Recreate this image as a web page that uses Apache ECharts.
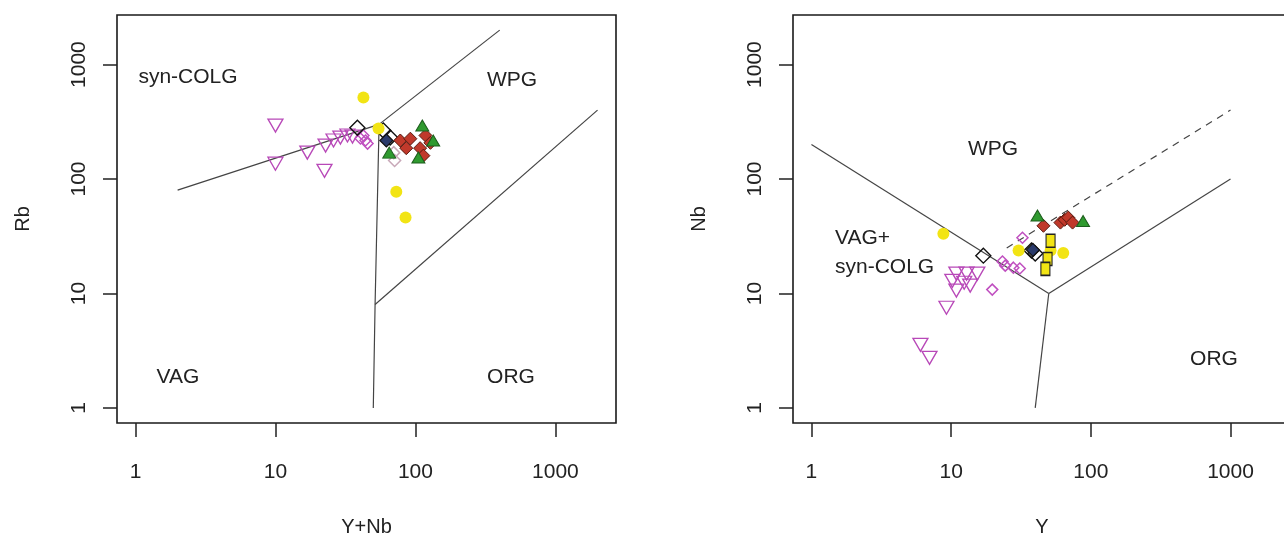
<!DOCTYPE html>
<html>
<head>
<meta charset="utf-8">
<script src="https://cdn.jsdelivr.net/npm/echarts@6/dist/echarts.min.js"></script>
<style>
html,body{margin:0;padding:0;background:#fff;overflow:hidden;}
#chart{width:1300px;height:538px;}
</style>
</head>
<body>
<div id="chart"></div>
<script>
// ---------- tick labels ----------
const tickValues = [1, 10, 100, 1000];

// ---------- left diagram: Rb vs Y+Nb ----------
const leftPinkTriangles = [[10,293],[10,136],[16.9,170],[22.4,118],[22.8,196],[26,217],[29.1,230],[32.7,240],[35.5,235]];
const leftPinkDiamonds  = [[40.5,226],[42.5,240],[44,217],[45.5,204]];
const leftBlackDiamonds = [[38.5,280],[59,265],[66,230]];
const leftNavyDiamonds  = [[62,217]];
const leftYellow        = [[42.5,515],[54.5,276],[73,77.5],[85,46]];
const leftRed           = [[78,217],[86,186],[92,225],[108,186],[118,240],[114,160],[128,207]];
const leftGreen         = [[112,293],[134,217],[105,154],[65,170]];
const leftGrey          = [[70,170],[71,145]];

const leftLineVagSyn = [[2,80],[55,300]];
const leftLineSynWpg = [[55,300],[400,2000]];
const leftLineVagOrg = [[55,300],[51.5,8],[50,1]];
const leftLineWpgOrg = [[51.5,8],[2000,400]];

// ---------- right diagram: Nb vs Y ----------
const rightPinkTriangles = [[10.9,14.9],[12.9,14.9],[15.4,14.9],[10.2,12.9],[12.4,12.4],[13.7,11.7],[10.9,10.6],[9.26,7.5],[6.03,3.56],[7.0,2.74]];
const rightPinkDiamonds  = [[32.4,30.7],[23.3,19],[24.4,17.5],[27.9,16.8],[31,16.5],[19.7,10.8]];
const rightBlackDiamonds = [[17,21.4],[37.6,23.7],[40,22.3]];
const rightNavyDiamonds  = [[38.5,24]];
const rightYellow        = [[8.8,33.3],[30.4,23.7],[51.5,23.7],[63.5,22.6]];
const rightSquares       = [[51.5,28.9],[49,20],[47.3,16.4]];
const rightRed           = [[45.8,39],[60.6,41.6],[65,44],[69,46],[74,41.6]];
const rightGreen         = [[41.5,48],[88,43]];

const rightLineWpgVag = [[1,200],[50,10]];
const rightLineWpgOrg = [[50,10],[1000,100]];
const rightLineVagOrg = [[50,10],[40,1]];
const rightLineDashed = [[25,25],[1000,400]];

// ---------- styles ----------
const FONT = 'Liberation Sans, Arial, sans-serif';
const TXT = '#222';
const FS = 21;

function fmt(v) { return String(Math.round(v)); }

function axisX(gridIndex, name) {
  return {
    type: 'log', gridIndex, min: Math.pow(10,-0.132), max: Math.pow(10,3.433),
    name, nameLocation: 'middle', nameGap: 94,
    nameTextStyle: {fontFamily: FONT, fontSize: 20, color: TXT},
    axisLine: {show: false},
    axisTick: {show: true, length: 14, inside: false, customValues: tickValues, lineStyle: {color: '#222', width: 1.5}},
    axisLabel: {customValues: tickValues, formatter: fmt, margin: 39, fontFamily: FONT, fontSize: FS, color: TXT},
    splitLine: {show: false}, minorTick: {show: false}
  };
}
function axisY(gridIndex, name) {
  return {
    type: 'log', gridIndex, min: Math.pow(10,-0.132), max: Math.pow(10,3.433),
    name, nameLocation: 'middle', nameGap: 84, nameRotate: 90,
    nameTextStyle: {fontFamily: FONT, fontSize: 20, color: TXT},
    axisLine: {show: false},
    axisTick: {show: true, length: 14, customValues: tickValues, lineStyle: {color: '#222', width: 1.5}},
    axisLabel: {customValues: tickValues, formatter: fmt, rotate: 90, margin: 27, fontFamily: FONT, fontSize: FS, color: TXT},
    splitLine: {show: false}, minorTick: {show: false}
  };
}

function lineSeries(g, data, dashed) {
  return {
    type: 'line', xAxisIndex: g, yAxisIndex: g, data, symbol: 'none', silent: true,
    lineStyle: {color: '#444', width: 1.2, type: dashed ? [7,6] : 'solid'}, z: 1
  };
}
function pts(g, data, symbol, size, fill, border, rotate, bw) {
  return {
    type: 'scatter', xAxisIndex: g, yAxisIndex: g, data, symbol, symbolSize: size,
    symbolRotate: rotate || 0,
    itemStyle: {color: fill, borderColor: border, borderWidth: bw == null ? 1.3 : bw, opacity: 1},
    z: 3
  };
}
const NONE = 'rgba(0,0,0,0)';
const PINK = '#b848b8';
const YEL = '#f2e414';
const RED = '#c0392b';
const GRN = '#2f9a2f';

function groupSeries(g, d) {
  return [
    pts(g, d.tri, 'triangle', [15,13], NONE, PINK, 180, 1.3),
    pts(g, d.pdia, 'diamond', [11,11], NONE, '#c050c0', 0, 1.5),
    pts(g, d.bdia, 'diamond', [15,15], NONE, '#111', 0, 1.4),
    pts(g, d.navy, 'diamond', [13,13], '#2a3a6a', '#111', 0, 1.2),
    pts(g, d.yel, 'circle', 12, YEL, NONE, 0, 0),
    pts(g, d.sq || [], 'rect', [9,13], YEL, '#222', 0, 1.3),
    pts(g, d.grey || [], 'diamond', [12,12], NONE, '#c8a8b8', 0, 1.5),
    pts(g, d.red, 'diamond', [13,13], RED, '#5a1a10', 0, 1),
    pts(g, d.grn, 'triangle', [13,11], GRN, '#1d5e1d', 0, 1)
  ];
}

const chart = echarts.init(document.getElementById('chart'), null, {renderer: 'canvas'});

const gridBox = {show: true, borderColor: '#1a1a1a', borderWidth: 1.6, backgroundColor: 'transparent',
  containLabel: false, outerBoundsMode: 'none'};

function regionText(x, y, text, align) {
  return {type: 'text', x, y, silent: true,
    style: {text, fontFamily: FONT, fontSize: FS, fill: TXT, textAlign: align || 'center', textVerticalAlign: 'middle'}};
}

const option = {
  backgroundColor: '#fff',
  animation: false,
  grid: [
    Object.assign({left: 117, top: 15, width: 499, height: 408}, gridBox),
    Object.assign({left: 793, top: 15, width: 498, height: 408}, gridBox)
  ],
  xAxis: [axisX(0, 'Y+Nb'), axisX(1, 'Y')],
  yAxis: [axisY(0, 'Rb'), axisY(1, 'Nb')],
  series: [
    lineSeries(0, leftLineVagSyn), lineSeries(0, leftLineSynWpg),
    lineSeries(0, leftLineVagOrg), lineSeries(0, leftLineWpgOrg),
    lineSeries(1, rightLineWpgVag), lineSeries(1, rightLineWpgOrg),
    lineSeries(1, rightLineVagOrg), lineSeries(1, rightLineDashed, true),
    ...groupSeries(0, {tri: leftPinkTriangles, pdia: leftPinkDiamonds, bdia: leftBlackDiamonds, navy: leftNavyDiamonds,
      yel: leftYellow, grey: leftGrey, red: leftRed, grn: leftGreen}),
    ...groupSeries(1, {tri: rightPinkTriangles, pdia: rightPinkDiamonds, bdia: rightBlackDiamonds, navy: rightNavyDiamonds,
      yel: rightYellow, sq: rightSquares, red: rightRed, grn: rightGreen})
  ],
  graphic: [
    regionText(188, 77, 'syn-COLG'),
    regionText(512, 80, 'WPG'),
    regionText(178, 377, 'VAG'),
    regionText(511, 377, 'ORG'),
    regionText(993, 149, 'WPG'),
    regionText(835, 238, 'VAG+', 'left'),
    regionText(835, 267, 'syn-COLG', 'left'),
    regionText(1214, 359, 'ORG')
  ]
};
chart.setOption(option);
</script>
</body>
</html>
